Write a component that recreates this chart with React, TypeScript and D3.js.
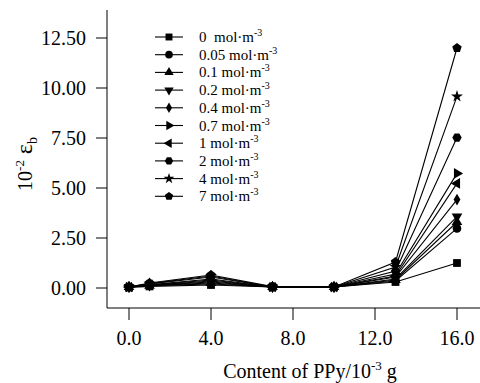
import React from "react";
import * as d3 from "d3";

const xValues = [0, 1, 4, 7, 10, 13, 16];
const seriesLabels = ["0", "0.05", "0.1", "0.2", "0.4", "0.7", "1", "2", "4", "7"];
const s0 = [0.03, 0.08, 0.15, 0.05, 0.05, 0.3, 1.25];
const s005 = [0.05, 0.12, 0.2, 0.05, 0.05, 0.35, 2.98];
const s01 = [0.05, 0.12, 0.25, 0.05, 0.05, 0.4, 3.3];
const s02 = [0.05, 0.13, 0.3, 0.05, 0.05, 0.45, 3.57];
const s04 = [0.05, 0.14, 0.35, 0.05, 0.05, 0.55, 4.42];
const s07 = [0.05, 0.15, 0.4, 0.05, 0.05, 0.7, 5.73];
const s1 = [0.05, 0.16, 0.45, 0.05, 0.05, 0.6, 5.23];
const s2 = [0.05, 0.2, 0.55, 0.05, 0.05, 0.85, 7.52];
const s4 = [0.05, 0.22, 0.6, 0.05, 0.05, 1.05, 9.58];
const s7 = [0.05, 0.25, 0.65, 0.07, 0.05, 1.3, 12.0];
const seriesValues = [s0, s005, s01, s02, s04, s07, s1, s2, s4, s7];
const markerKinds = ["square", "circle", "up", "down", "diamond", "right", "left", "hexagon", "star", "pentagon"];
const xTicks = [0, 4, 8, 12, 16];
const yTicks = [0, 2.5, 5, 7.5, 10, 12.5];

const FONT = "'Liberation Serif', 'Times New Roman', serif";

function polygon(n: number, r: number, rot: number) {
  const pts: string[] = [];
  for (let i = 0; i < n; i++) {
    const a = rot + (i * 2 * Math.PI) / n;
    pts.push(`${(r * Math.cos(a)).toFixed(2)},${(r * Math.sin(a)).toFixed(2)}`);
  }
  return "M" + pts.join("L") + "Z";
}

function markerPath(kind: string, s: number) {
  switch (kind) {
    case "square":
      return d3.symbol(d3.symbolSquare, s * s * 0.75)() as string;
    case "circle":
      return d3.symbol(d3.symbolCircle, s * s * 0.72)() as string;
    case "up":
    case "down":
    case "left":
    case "right":
      return d3.symbol(d3.symbolTriangle, s * s * 0.6)() as string;
    case "diamond":
      return d3.symbol(d3.symbolDiamond, s * s * 0.5)() as string;
    case "star":
      return d3.symbol(d3.symbolStar, s * s * 0.55)() as string;
    case "hexagon":
      return polygon(6, s * 0.52, 0);
    case "pentagon":
      return polygon(5, s * 0.55, -Math.PI / 2);
  }
  return "";
}
function markerRot(kind: string) {
  if (kind === "down") return 180;
  if (kind === "right") return 90;
  if (kind === "left") return -90;
  return 0;
}

export default function App() {
  const x = d3.scaleLinear().domain([0, 16]).range([129, 457]);
  const y = d3.scaleLinear().domain([0, 12.5]).range([288, 38]);
  const line = d3
    .line<number>()
    .x((_, i) => x(xValues[i]))
    .y((d) => y(d));
  const axisX = 107;
  const axisY = 308;

  return (
    <svg
      width={480}
      height={383}
      style={{ position: "absolute", left: 0, top: 0, background: "#fff" }}
      fontFamily={FONT}
    >
      <rect x={0} y={0} width={480} height={383} fill="#fff" />
      {/* axes */}
      <line x1={axisX} y1={10} x2={axisX} y2={axisY} stroke="#000" strokeWidth={1} />
      <line x1={axisX} y1={axisY} x2={480} y2={axisY} stroke="#000" strokeWidth={1} />
      {yTicks.map((t) => (
        <g key={"y" + t}>
          <line x1={axisX - 11} x2={axisX} y1={y(t)} y2={y(t)} stroke="#000" strokeWidth={1} />
          <text x={86} y={y(t) + 7} fontSize={20} textAnchor="end" fill="#000">
            {t.toFixed(2)}
          </text>
        </g>
      ))}
      {xTicks.map((t) => (
        <g key={"x" + t}>
          <line x1={x(t)} x2={x(t)} y1={axisY} y2={axisY + 12} stroke="#000" strokeWidth={1} />
          <text x={x(t)} y={345} fontSize={20} textAnchor="middle" fill="#000">
            {t.toFixed(1)}
          </text>
        </g>
      ))}
      {/* axis titles */}
      <text x={310} y={378} fontSize={20} textAnchor="middle" fill="#000">
        Content of PPy/10
        <tspan dy={-8} fontSize={13}>-3</tspan>
        <tspan dy={8}> g</tspan>
      </text>
      <text transform="translate(32,164) rotate(-90)" fontSize={20} textAnchor="middle" fill="#000">
        10
        <tspan dy={-8} fontSize={13}>-2</tspan>
        <tspan dy={8} fontSize={24}> ε</tspan>
        <tspan dy={5} fontSize={14}>b</tspan>
      </text>
      {/* series */}
      {seriesValues.map((vals, si) => (
        <g key={"s" + si}>
          <path d={line(vals) as string} fill="none" stroke="#000" strokeWidth={1.1} />
          {vals.map((v, i) => (
            <path
              key={i}
              d={markerPath(markerKinds[si], 9)}
              transform={`translate(${x(xValues[i])},${y(v)}) rotate(${markerRot(markerKinds[si])})`}
              fill="#000"
            />
          ))}
        </g>
      ))}
      {/* legend */}
      {seriesLabels.map((lab, i) => {
        const ly = 37 + i * 17.7;
        return (
          <g key={"l" + i}>
            <line x1={155} x2={183} y1={ly} y2={ly} stroke="#000" strokeWidth={1.1} />
            <path
              d={markerPath(markerKinds[i], 8)}
              transform={`translate(169,${ly}) rotate(${markerRot(markerKinds[i])})`}
              fill="#000"
            />
            <text x={199} y={ly + 5} fontSize={15} fill="#000" xmlSpace="preserve">
              {lab === "0" ? "0\u00a0 mol·m" : lab + " mol·m"}
              <tspan dy={-6} fontSize={10}>-3</tspan>
            </text>
          </g>
        );
      })}
    </svg>
  );
}
